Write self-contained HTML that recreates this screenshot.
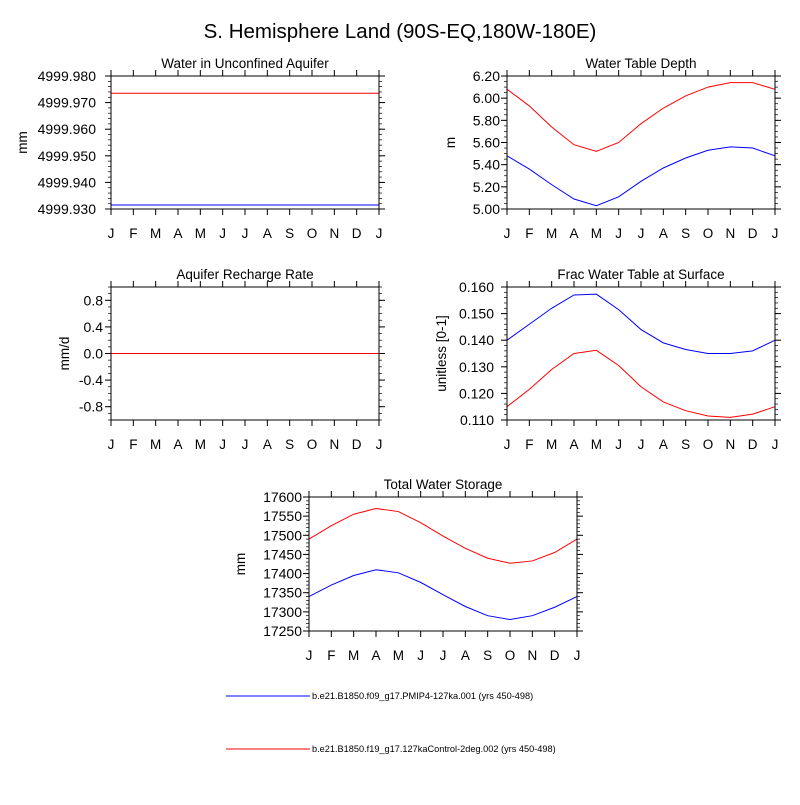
<!DOCTYPE html>
<html><head><meta charset="utf-8"><style>
body{margin:0;background:#fff;width:800px;height:800px;overflow:hidden}
svg{font-family:"Liberation Sans",sans-serif}
</style></head><body>
<svg id="c" width="800" height="800" xmlns="http://www.w3.org/2000/svg">
<text x="400" y="38" text-anchor="middle" font-size="20.5">S. Hemisphere Land (90S-EQ,180W-180E)</text>
<g>
<line x1="226" y1="696" x2="310" y2="696" stroke="#0000ff"/>
<text x="312" y="699" font-size="9.2">b.e21.B1850.f09_g17.PMIP4-127ka.001 (yrs 450-498)</text>
<line x1="226" y1="749" x2="310" y2="749" stroke="#ff0000"/>
<text x="312" y="752" font-size="9.2">b.e21.B1850.f19_g17.127kaControl-2deg.002 (yrs 450-498)</text>
</g>
</svg>
<script>
const months=["J","F","M","A","M","J","J","A","S","O","N","D","J"];
const aquiferBlue=[4999.9315,4999.9315,4999.9315,4999.9315,4999.9315,4999.9315,4999.9315,4999.9315,4999.9315,4999.9315,4999.9315,4999.9315,4999.9315];
const aquiferRed=[4999.9735,4999.9735,4999.9735,4999.9735,4999.9735,4999.9735,4999.9735,4999.9735,4999.9735,4999.9735,4999.9735,4999.9735,4999.9735];
const wtdBlue=[5.48,5.36,5.22,5.09,5.03,5.11,5.25,5.37,5.46,5.53,5.56,5.55,5.48];
const wtdRed=[6.08,5.93,5.74,5.58,5.52,5.60,5.77,5.91,6.02,6.10,6.14,6.14,6.08];
const rechBlue=[0,0,0,0,0,0,0,0,0,0,0,0,0];
const rechRed=[0,0,0,0,0,0,0,0,0,0,0,0,0];
const fracBlue=[0.140,0.146,0.152,0.157,0.1573,0.1515,0.144,0.139,0.1365,0.135,0.135,0.136,0.140];
const fracRed=[0.115,0.1215,0.129,0.135,0.1362,0.1305,0.1225,0.1168,0.1135,0.1115,0.111,0.1122,0.115];
const twsBlue=[17340,17370,17395,17410,17402,17377,17345,17314,17290,17280,17290,17312,17340];
const twsRed=[17490,17525,17555,17570,17562,17533,17498,17466,17440,17427,17433,17455,17490];
const aquiferTicks=["4999.930","4999.940","4999.950","4999.960","4999.970","4999.980"];
const wtdTicks=["5.00","5.20","5.40","5.60","5.80","6.00","6.20"];
const rechTicks=["-0.8","-0.4","0.0","0.4","0.8"];
const fracTicks=["0.110","0.120","0.130","0.140","0.150","0.160"];
const twsTicks=["17250","17300","17350","17400","17450","17500","17550","17600"];

const svg=document.getElementById('c');
const NS="http://www.w3.org/2000/svg";
function mk(t,a,p){const e=document.createElementNS(NS,t);for(const k in a)e.setAttribute(k,a[k]);(p||svg).appendChild(e);return e;}

function panel(name,title,ylab,L,T,W,H,ymin,ymax,ticks,nminor,blue,red,gap,yoff){
  const g=mk('g',{});
  
  
  const xs=i=>L+i*W/12;
  const ys=v=>T+H-(v-ymin)/(ymax-ymin)*H;
  const tt=mk('text',{x:L+W/2,y:T-8,'text-anchor':'middle','font-size':13.5},g);tt.textContent=title;
  
  
  for(let i=0;i<13;i++){
    const x=xs(i);
    mk('line',{x1:x,y1:T+H,x2:x,y2:T+H+6,stroke:'#000'},g);
    mk('line',{x1:x,y1:T,x2:x,y2:T-6,stroke:'#000'},g);
    const t=mk('text',{x:x,y:T+H+29,'text-anchor':'middle','font-size':13.5},g);t.textContent=months[i];
    
    
  }
  const n=ticks.length;
  for(let j=0;j<n;j++){
    const v=parseFloat(ticks[j]);const y=ys(v);
    mk('line',{x1:L,y1:y,x2:L-6,y2:y,stroke:'#000'},g);
    mk('line',{x1:L+W,y1:y,x2:L+W+6,y2:y,stroke:'#000'},g);
    const t=mk('text',{x:L-gap,y:y+5,'text-anchor':'end','font-size':14},g);t.textContent=ticks[j];
    
    
  }
  const step=(parseFloat(ticks[1])-parseFloat(ticks[0]))/nminor;
  for(let v=ymin;v<=ymax+1e-9;v+=step){
    const y=ys(v);
    mk('line',{x1:L,y1:y,x2:L-3,y2:y,stroke:'#000','stroke-width':0.7},g);
    mk('line',{x1:L+W,y1:y,x2:L+W+3,y2:y,stroke:'#000','stroke-width':0.7},g);
  }
  const yl=mk('text',{x:0,y:0,'text-anchor':'middle','font-size':13.5,transform:`translate(${L-yoff},${T+H/2}) rotate(-90)`},g);yl.textContent=ylab;
  
  
  const mkLine=(arr,col,nm)=>{
    const p=mk('polyline',{points:arr.map((v,i)=>xs(i)+','+ys(v)).join(' '),fill:'none',stroke:col,'stroke-width':1},g);
    
    
  };
  mkLine(blue,'#0000ff',name+'-blue-line');
  mkLine(red,'#ff0000',name+'-red-line');
  mk('rect',{x:L,y:T,width:W,height:H,fill:'none',stroke:'#000'},g);
}
panel('aquifer','Water in Unconfined Aquifer','mm',111,76,268,133,4999.930,4999.980,aquiferTicks,5,aquiferBlue,aquiferRed,15,84);
panel('water-table-depth','Water Table Depth','m',507,76,268,133,5.0,6.2,wtdTicks,4,wtdBlue,wtdRed,7,52);
panel('recharge','Aquifer Recharge Rate','mm/d',111,287,268,133,-1,1,rechTicks,4,rechBlue,rechRed,8,42);
panel('frac-water-table','Frac Water Table at Surface','unitless [0-1]',507,287,268,133,0.110,0.160,fracTicks,5,fracBlue,fracRed,13,61);
panel('total-water-storage','Total Water Storage','mm',309,497,268,134,17250,17600,twsTicks,5,twsBlue,twsRed,7,64);
</script>
</body></html>
